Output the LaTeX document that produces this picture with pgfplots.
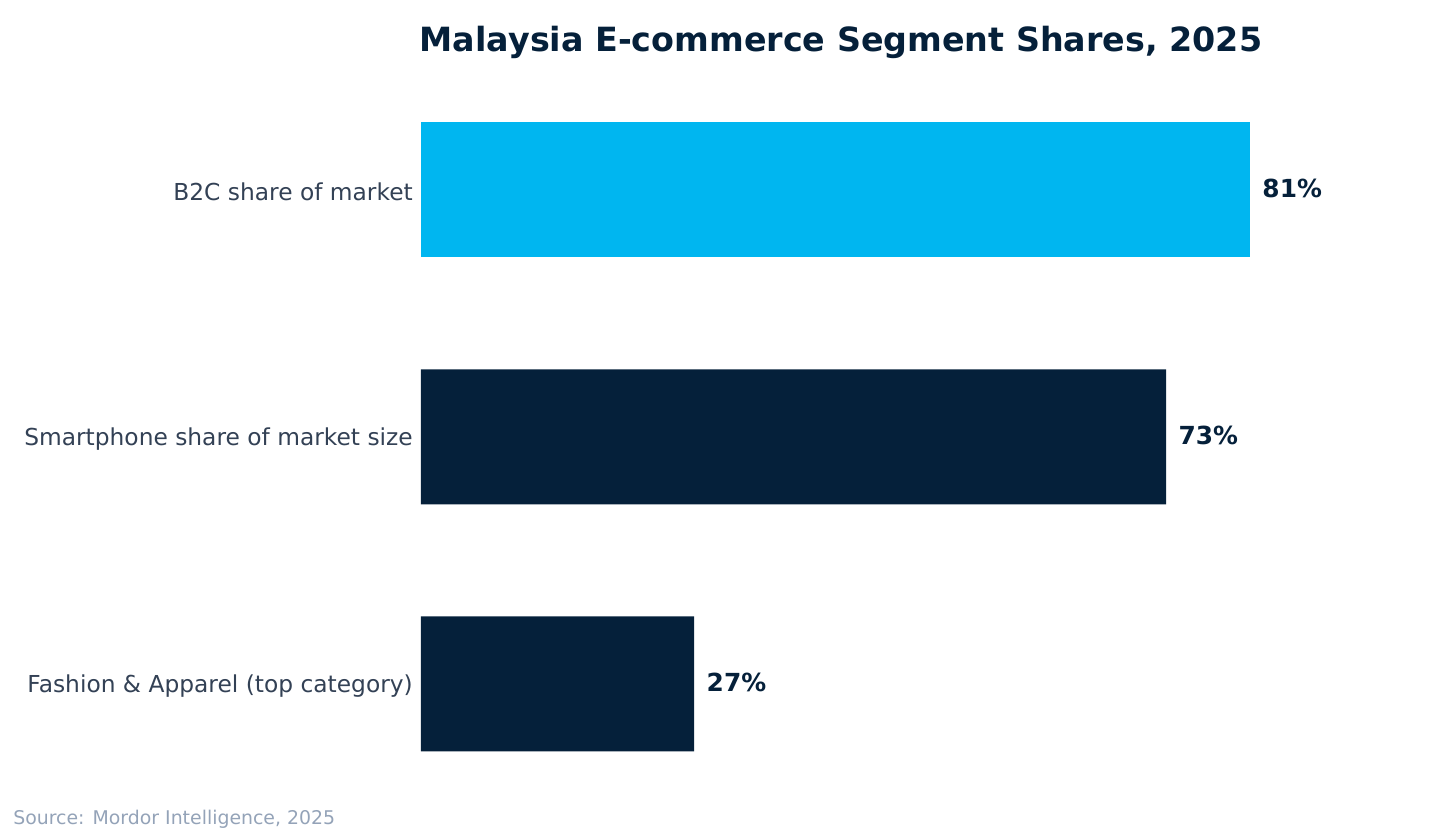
\documentclass[border=0pt]{standalone}
\usepackage{fontspec}
\setmainfont{DejaVu Sans}
\usepackage{pgfplots}
\pgfplotsset{compat=1.18}
\definecolor{navy}{HTML}{05203A}
\definecolor{cyanbar}{HTML}{00B6F0}
\definecolor{slate}{HTML}{334155}
\definecolor{srcgray}{HTML}{94A3B8}
\begin{document}
\begin{tikzpicture}
\useasboundingbox (0,0) rectangle (1036.8pt,599.04pt);
\begin{axis}[
  at={(303.1pt,17.64pt)}, anchor=south west,
  scale only axis,
  width=663.2pt, height=533.52pt,
  xbar, bar width=97.2pt,
  xmin=0, xmax=90,
  ymin=-0.5, ymax=2.5,
  axis line style={draw=none},
  major tick length=0pt,
  xtick=\empty,
  ytick={0,1,2},
  yticklabels={Fashion \& Apparel (top category), Smartphone share of market size, B2C share of market},
  yticklabel style={font=\fontsize{16.8}{20}\selectfont, text=slate, inner sep=0pt, xshift=-5.7pt, yshift=-1.6pt},
  /pgf/number format/assume math mode=true,
  point meta=x,
  nodes near coords={\pgfmathprintnumber[fixed,precision=0]{\pgfplotspointmeta}\%},
  nodes near coords style={font=\bfseries\fontsize{17.9}{21}\selectfont, text=navy, anchor=west, inner sep=0pt, xshift=8.8pt, yshift=0.8pt},
  clip=false,
]
\addplot[draw=none, fill=cyanbar, bar shift=0pt] coordinates {(81,2)};
\addplot[draw=none, fill=navy, bar shift=0pt] coordinates {(72.8,1) (26.7,0)};
\end{axis}
\node[anchor=base west, inner sep=0pt, text=navy, font=\bfseries\fontsize{24}{28}\selectfont] at (302pt,562.3pt) {Malaysia E-commerce Segment Shares, 2025};
\node[anchor=base west, inner sep=0pt, text=srcgray, font=\fontsize{13.6}{16}\selectfont] at (9.4pt,5.5pt) {Source: Mordor Intelligence, 2025};
\end{tikzpicture}
\end{document}
